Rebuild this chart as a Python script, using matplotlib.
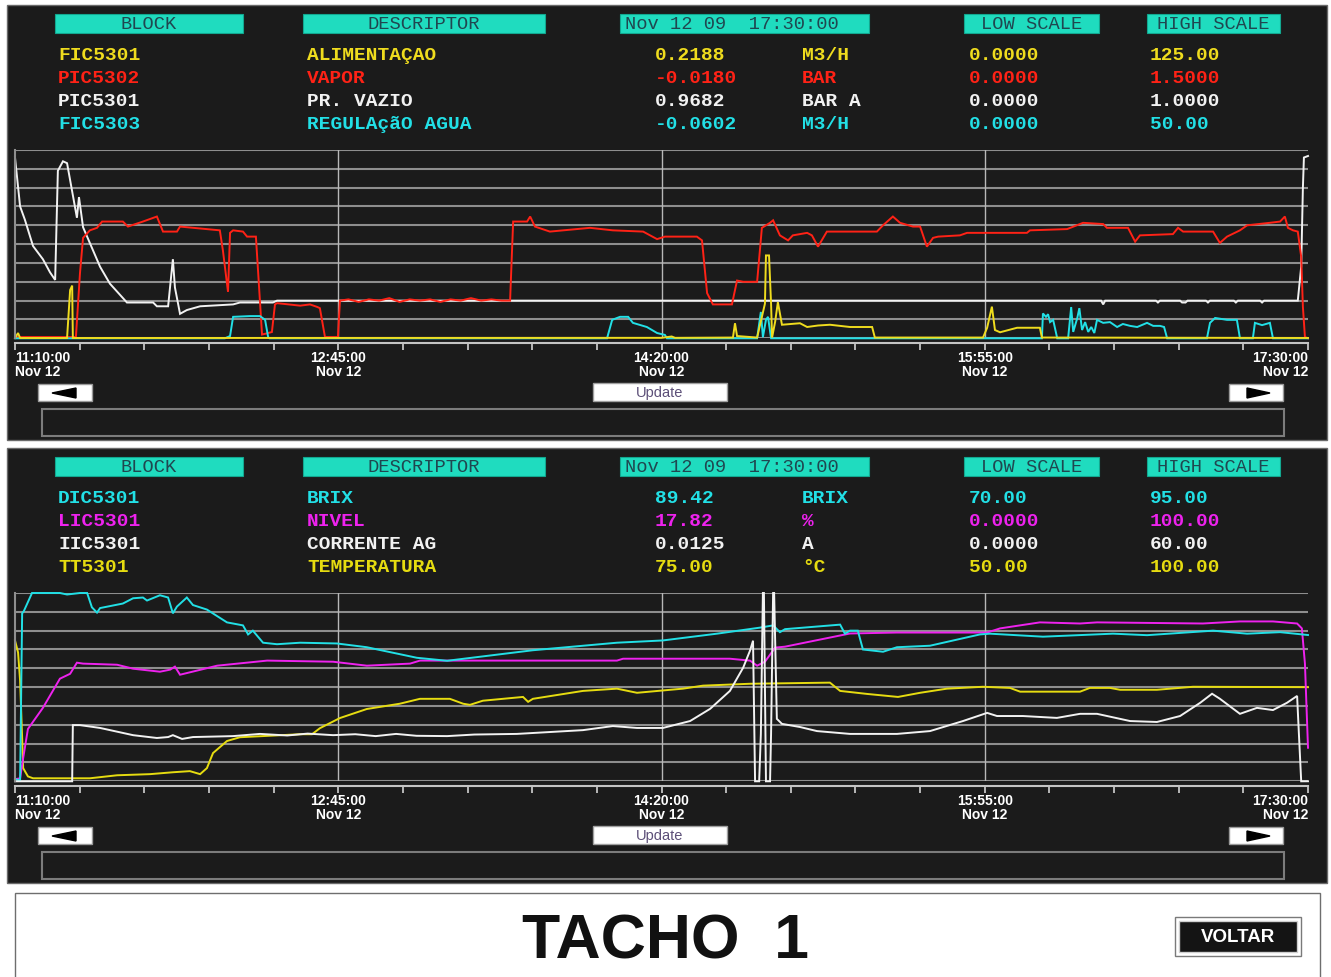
import numpy as np
import matplotlib
matplotlib.use("Agg")
import matplotlib.pyplot as plt
from matplotlib.patches import Rectangle, Polygon

W, H = 1331, 977

# janela de tendencia: minutos depois de 11:10:00 (Nov 12 09)
span_min = 380
major_min = [0, 95, 190, 285, 380]
major_txt = ["11:10:00", "12:45:00", "14:20:00", "15:55:00", "17:30:00"]
date_txt = "Nov 12"
stamp_txt = "Nov 12 09  17:30:00"

# grupo 1 - vapor / alimentacao
g1_block = ["FIC5301", "PIC5302", "PIC5301", "FIC5303"]
g1_desc = ["ALIMENTAÇAO", "VAPOR", "PR. VAZIO", "REGULAçãO AGUA"]
g1_value = [0.2188, -0.0180, 0.9682, -0.0602]
g1_unit = ["M3/H", "BAR", "BAR A", "M3/H"]
g1_low = [0.0, 0.0, 0.0, 0.0]
g1_high = [125.0, 1.5, 1.0, 50.0]
g1_color = ["#efdc1e", "#ff2216", "#f2f2f2", "#22e0e6"]

# grupo 2 - brix / nivel
g2_block = ["DIC5301", "LIC5301", "IIC5301", "TT5301"]
g2_desc = ["BRIX", "NIVEL", "CORRENTE AG", "TEMPERATURA"]
g2_value = [89.42, 17.82, 0.0125, 75.00]
g2_unit = ["BRIX", "%", "A", "°C"]
g2_low = [70.0, 0.0, 0.0, 50.0]
g2_high = [95.0, 100.0, 60.0, 100.0]
g2_color = ["#22e0e6", "#ee22ee", "#f2f2f2", "#e6dc10"]

# historicos (minuto, valor em unidade de engenharia)
fic5301 = [(0, 0.2), (0.9, 3.5), (1.5, 0.2), (15.3, 0.2), (16.2, 32), (16.8, 35), (17.0, 0.2),
           (190, 0.3), (193, 1.2), (194, 0.3), (211.0, 0.5), (211.6, 10), (212.2, 1.5),
           (218.1, 0.5), (220.4, 23), (220.7, 55), (221.6, 55), (222.2, 23), (222.5, 0.5),
           (223.4, 11), (224.2, 24), (225.4, 9), (230.7, 10), (232.8, 7.5), (236, 8.5),
           (239.5, 9), (245.4, 7.5), (251.9, 7.5), (252.7, 0.5), (284.5, 0.5), (285.7, 7),
           (287.1, 21), (288.0, 5.5), (289.5, 4), (294.5, 7), (301.2, 7), (301.8, 0.5),
           (380, 0.2188)]

pic5302 = [(0, 0.01), (17.9, 0.01), (19.1, 0.52), (20.0, 0.80), (22.0, 0.86), (24.1, 0.88),
           (25.6, 0.93), (31.7, 0.93), (33.2, 0.89), (37.6, 0.93), (41.7, 0.97), (43.5, 0.85),
           (47.6, 0.85), (48.5, 0.89), (60.2, 0.86), (61.1, 0.70), (62.6, 0.37), (63.2, 0.84),
           (64.1, 0.86), (67.0, 0.85), (68.2, 0.81), (70.8, 0.81), (72.6, 0.03), (74.1, 0.04),
           (75.5, 0.05), (76.4, 0.27), (77.0, 0.28), (83.8, 0.26), (86.7, 0.27), (88.8, 0.25),
           (89.6, 0.24), (91.1, 0.01), (94.9, 0.01), (95.5, 0.30), (98, 0.31), (101, 0.29),
           (104, 0.31), (107, 0.30), (110, 0.32), (113, 0.29), (116, 0.31), (119, 0.30),
           (122, 0.31), (125, 0.29), (128, 0.31), (131, 0.30), (134, 0.32), (137, 0.30),
           (140, 0.31), (143, 0.30), (145.5, 0.30), (146.4, 0.93), (150.5, 0.93), (151.4, 0.97),
           (152.8, 0.89), (157.2, 0.85), (169.0, 0.88), (175.7, 0.86), (184.6, 0.85),
           (188.7, 0.79), (191.0, 0.81), (200.4, 0.81), (201.9, 0.78), (203.4, 0.36),
           (205.1, 0.27), (210.7, 0.27), (212.2, 0.46), (214.0, 0.45), (218.1, 0.45),
           (219.5, 0.88), (221.9, 0.92), (222.8, 0.94), (224.8, 0.82), (227.2, 0.78),
           (228.6, 0.82), (232.8, 0.84), (234.2, 0.82), (236.0, 0.73), (238.6, 0.85),
           (253.3, 0.85), (255.1, 0.90), (258.0, 0.97), (260.1, 0.92), (263.9, 0.89),
           (266.0, 0.89), (268.0, 0.73), (269.8, 0.80), (271.3, 0.81), (277.7, 0.82),
           (279.8, 0.84), (297.4, 0.84), (298.3, 0.86), (309.2, 0.87), (313.9, 0.92),
           (319.8, 0.91), (320.9, 0.88), (327.1, 0.88), (329.2, 0.77), (330.6, 0.82),
           (340.3, 0.83), (341.8, 0.88), (343.3, 0.85), (352.1, 0.85), (354.1, 0.76),
           (356.2, 0.81), (360.0, 0.86), (362.1, 0.90), (368.8, 0.92), (371.8, 0.93),
           (373.2, 0.97), (374.1, 0.88), (375.6, 0.86), (377.0, 0.85), (378.0, 0.65),
           (378.5, 0.25), (379.1, 0.01), (380, -0.0180)]

pic5301 = [(0, 0.96), (1.5, 0.70), (2.9, 0.63), (5.3, 0.49), (8.2, 0.42), (10.3, 0.35),
           (11.8, 0.31), (12.6, 0.89), (14.1, 0.94), (15.3, 0.93), (18.2, 0.64), (18.8, 0.75),
           (20.0, 0.59), (25.0, 0.38), (27.9, 0.29), (32.9, 0.19), (40.6, 0.19), (41.7, 0.17),
           (45.0, 0.17), (46.4, 0.42), (47.0, 0.27), (48.5, 0.13), (50.5, 0.15), (54.4, 0.17),
           (64.1, 0.18), (66.1, 0.19), (75.8, 0.19), (77.0, 0.20), (319.2, 0.20), (319.8, 0.18),
           (320.4, 0.20), (335.3, 0.20), (335.9, 0.19), (336.5, 0.20), (342.4, 0.20),
           (343.0, 0.19), (344.0, 0.19), (344.6, 0.20), (350.0, 0.20), (350.6, 0.19),
           (351.2, 0.20), (358.2, 0.20), (358.8, 0.19), (359.4, 0.20), (365.9, 0.20),
           (366.5, 0.19), (367.1, 0.20), (377.0, 0.20), (378.0, 0.38), (378.5, 0.80),
           (378.8, 0.96), (380, 0.9682)]

fic5303 = [(0, 0), (61.7, 0), (63.2, 0.6), (64.1, 5.7), (69.1, 5.9), (72.0, 5.9), (73.5, 4.9),
           (74.4, 0.3), (74.8, 0), (174.0, 0), (175.5, 4.9), (177.8, 5.7), (180.2, 5.7),
           (181.6, 4.1), (185.7, 3.0), (188.7, 1.4), (191.0, 0.9), (191.6, 0), (218.1, 0),
           (219.2, 7.0), (219.8, 0.3), (220.7, 4.9), (221.3, 5.7), (222.2, 0), (301.8, 0),
           (302.1, 6.6), (303.0, 5.7), (303.6, 6.4), (304.2, 4.3), (305.1, 4.9), (306.3, 0),
           (309.5, 0), (310.4, 8.3), (311.0, 1.7), (312.2, 5.4), (312.8, 8.0), (313.6, 2.2),
           (314.5, 4.3), (315.4, 1.7), (316.3, 3.0), (317.2, 1.4), (318.0, 4.9), (319.8, 4.1),
           (321.8, 4.3), (323.9, 3.0), (325.6, 3.8), (327.7, 3.3), (329.8, 3.0), (332.7, 4.1),
           (334.5, 3.3), (336.5, 3.3), (337.7, 3.0), (338.6, 0), (350.3, 0), (351.2, 4.1),
           (352.7, 5.4), (356.2, 4.9), (359.1, 4.9), (360.0, 0), (363.8, 0), (364.4, 4.1),
           (366.5, 3.5), (368.8, 4.1), (369.7, 0), (380, -0.0602)]

dic5301 = [(0, 70.3), (1.5, 70.1), (2.1, 92.3), (2.6, 92.6), (5.0, 95.0), (13.2, 95.0),
           (15.3, 94.8), (19.1, 95.0), (21.2, 95.0), (22.6, 93.1), (24.1, 92.4), (25.0, 93.0),
           (31.7, 93.6), (34.7, 94.3), (37.6, 94.4), (38.8, 94.0), (42.6, 94.7), (45.0, 94.4),
           (46.4, 92.3), (47.6, 93.2), (50.5, 94.4), (52.3, 93.4), (56.4, 92.8), (62.3, 91.1),
           (67.0, 90.7), (68.5, 89.5), (69.9, 90.0), (72.9, 88.4), (77.0, 88.2), (83.8, 88.4),
           (94.6, 88.3), (103.4, 87.8), (118.1, 86.4), (127.0, 86.0), (152.2, 87.4),
           (176.9, 88.4), (190.4, 88.7), (206.3, 89.6), (218.9, 90.4), (222.8, 90.7),
           (224.8, 89.8), (226.3, 90.2), (242.5, 90.8), (243.9, 89.6), (245.4, 90.0),
           (247.7, 90.0), (249.2, 87.5), (255.1, 87.2), (259.2, 87.8), (268.9, 88.0),
           (283.6, 89.5), (286.5, 89.6), (302.1, 89.2), (322.7, 89.6), (332.7, 89.4),
           (352.1, 90.0), (362.1, 89.6), (371.8, 89.8), (380, 89.42)]

lic5301 = [(0, 1.1), (1.5, 1.6), (2.4, 12.3), (3.8, 27.8), (8.2, 39.0), (13.2, 54.5),
           (16.2, 57.1), (18.2, 63.0), (20.0, 62.5), (30.0, 61.9), (34.7, 59.8), (42.6, 58.2),
           (45.6, 59.3), (47.0, 60.9), (48.5, 56.6), (59.4, 61.4), (74.1, 64.1), (93.5, 63.5),
           (103.4, 61.4), (116.1, 62.5), (119.0, 64.1), (176.9, 64.1), (178.7, 65.1),
           (210.1, 65.1), (216.0, 64.1), (218.1, 61.4), (220.4, 63.5), (223.4, 71.0),
           (226.3, 71.5), (245.4, 78.5), (259.2, 79.0), (285.7, 79.0), (289.5, 81.2),
           (301.2, 84.4), (313.0, 83.8), (318.0, 84.4), (349.1, 83.8), (360.0, 84.9),
           (369.7, 84.9), (376.8, 83.8), (378.2, 81.2), (379.1, 62.5), (380, 17.82)]

iic5301 = [(0, 0), (16.8, 0), (17.0, 17.9), (19.1, 17.9), (25.0, 17.0), (34.7, 14.7),
           (41.7, 13.8), (45.0, 14.1), (46.4, 14.7), (49.1, 13.5), (52.3, 14.1), (64.1, 14.4),
           (72.0, 15.1), (80, 14.6), (86, 15.2), (93.5, 14.7), (100, 15.0), (106, 14.4),
           (112, 15.1), (118, 14.5), (127.0, 14.4), (135, 14.9), (147.5, 15.1), (166.9, 16.3),
           (175.7, 17.6), (182.8, 17.0), (190.4, 17.0), (198.4, 19.2), (204.3, 23.1),
           (210.1, 28.8), (214.0, 36.2), (216.0, 41.6), (216.9, 44.8), (217.5, 0), (218.7, 0),
           (219.2, 15.1), (219.8, 60), (220.1, 60), (220.7, 0), (221.9, 0), (222.2, 15.1),
           (222.8, 60), (223.1, 60), (223.9, 19.9), (225.4, 18.3), (230.7, 17.3),
           (235.7, 16.0), (245.4, 15.1), (259.2, 15.1), (268.9, 16.0), (278.6, 19.2),
           (285.7, 21.8), (288.6, 20.8), (296.2, 20.8), (306.2, 20.2), (313.0, 21.5),
           (318.0, 21.5), (327.7, 19.2), (335.6, 18.9), (342.4, 20.8), (348.3, 25.0),
           (351.8, 27.9), (354.1, 26.3), (360.0, 21.5), (365.0, 23.4), (369.7, 22.7),
           (373.8, 25.0), (376.8, 27.2), (377.1, 20.2), (378.0, 0), (380, 0.0125)]

tt5301 = [(0, 87.4), (0.9, 84.2), (1.5, 76.7), (2.1, 61.5), (2.4, 53.5), (3.8, 51.3),
          (5.3, 50.8), (22.0, 50.8), (30.0, 51.6), (39.7, 51.9), (46.4, 52.4), (51.4, 52.7),
          (54.4, 51.9), (56.4, 53.5), (58.2, 57.5), (62.3, 60.7), (66.1, 61.7), (83.8, 62.5),
          (87.3, 62.5), (89.6, 64.1), (95.5, 66.8), (103.4, 69.2), (113.1, 70.6),
          (119.0, 71.9), (127.8, 71.9), (131.7, 70.6), (133.7, 70.3), (137.5, 71.4),
          (149.3, 72.4), (150.8, 71.1), (152.2, 71.9), (166.9, 74.0), (176.9, 74.6),
          (182.8, 73.5), (196.3, 74.6), (202.2, 75.4), (216.0, 75.9), (239.5, 76.2),
          (242.5, 74.0), (250.4, 73.2), (259.5, 72.4), (266.0, 73.5), (273.9, 74.6),
          (284.5, 75.1), (292.4, 74.8), (295.4, 73.8), (313.0, 73.8), (315.9, 74.8),
          (321.8, 74.8), (324.8, 74.3), (335.6, 74.3), (346.2, 75.1), (380, 75.00)]

g1_series = [fic5301, pic5302, pic5301, fic5303]
g2_series = [dic5301, lic5301, iic5301, tt5301]
g1_order = [2, 1, 3, 0]   # ordem de desenho das penas
g2_order = [3, 1, 0, 2]

MONO = "Liberation Mono"
SANS = "Liberation Sans"
PANEL = "#1b1b1b"
TEAL = "#1fdcbf"
GRID = "#8e8e8e"


def fmt(v):
    return f"{v:.4f}" if abs(v) < 10 else f"{v:.2f}"


def fig_rect(x0, y0, x1, y1):
    return [x0 / W, 1 - y1 / H, (x1 - x0) / W, (y1 - y0) / H]


fig = plt.figure(figsize=(W / 100, H / 100), dpi=100, facecolor="white")
cv = fig.add_axes([0, 0, 1, 1])
cv.set_xlim(0, W)
cv.set_ylim(H, 0)
cv.axis("off")


def draw_group(dy, blocks, descs, values, units, lows, highs, colors, series, order):
    # fundo do painel
    cv.add_patch(Rectangle((7, 5 + dy), 1320, 435, facecolor=PANEL, edgecolor="#6a6a6a", lw=1))

    # cabecalho
    heads = [(55, 243, "BLOCK", "center"), (303, 545, "DESCRIPTOR", "center"),
             (620, 869, stamp_txt, "left"), (964, 1099, "LOW SCALE", "center"),
             (1147, 1280, "HIGH SCALE", "center")]
    for x0, x1, txt, ha in heads:
        cv.add_patch(Rectangle((x0, 14 + dy), x1 - x0, 19, facecolor=TEAL,
                               edgecolor="#12a890", lw=0.8))
        tx = (x0 + x1) / 2 if ha == "center" else x0 + 5
        cv.text(tx, 24.5 + dy, txt, ha=ha, va="center", family=MONO, fontsize=13.5,
                color="#1f4750")

    # linhas das penas
    for i in range(4):
        y = 55.5 + 23 * i + dy
        cols = [(58, blocks[i]), (307, descs[i]), (655, fmt(values[i])), (802, units[i]),
                (969, fmt(lows[i])), (1150, fmt(highs[i]))]
        for x, txt in cols:
            cv.text(x, y, txt, ha="left", va="center", family=MONO, fontsize=14,
                    fontweight="bold", color=colors[i])

    # area de tendencia
    ax = fig.add_axes(fig_rect(15, 150 + dy, 1308, 338.3 + dy))
    ax.set_facecolor("none")
    ax.set_xlim(0, span_min)
    ax.set_ylim(0, 1)
    ax.set_yticks(np.linspace(0, 1, 11))
    ax.tick_params(axis="y", length=0, labelleft=False)
    ax.grid(axis="y", color=GRID, lw=1.5)
    for m in major_min[1:-1]:
        ax.axvline(m, color="#b8b8b8", lw=1.0)
    ax.spines["top"].set_visible(False)
    ax.spines["right"].set_visible(False)
    ax.spines["left"].set_color(GRID)
    ax.spines["left"].set_linewidth(1.5)
    ax.spines["bottom"].set_position(("outward", 3.5))
    ax.spines["bottom"].set_color("#c4c4c4")
    ax.spines["bottom"].set_linewidth(1.5)
    ax.set_xticks(major_min, labels=[f"{t}\n{date_txt}" for t in major_txt])
    ax.set_xticks(np.arange(0, span_min + 1, 19), minor=True)
    ax.tick_params(axis="x", which="both", direction="out", length=5, width=1.3,
                   color="#c4c4c4", labelcolor="white", labelsize=10, pad=1)
    labs = ax.get_xticklabels()
    for lab in labs:
        lab.set_family(SANS)
        lab.set_fontweight("bold")
        lab.set_linespacing(0.95)
    labs[0].set_ha("left")
    labs[-1].set_ha("right")

    for i in order:
        t, v = np.array(series[i], dtype=float).T
        frac = np.clip((v - lows[i]) / (highs[i] - lows[i]), 0, 1)
        ax.plot(t, frac, color=colors[i], lw=1.4, clip_on=False, solid_joinstyle="miter")

    # botoes
    cv.add_patch(Rectangle((38, 384 + dy), 54, 17, facecolor="white", edgecolor="#9a9a9a", lw=1))
    cv.add_patch(Polygon([(52, 393 + dy), (76, 388 + dy), (76, 398 + dy)], closed=True,
                         facecolor="black", edgecolor="black"))
    cv.add_patch(Rectangle((1229, 384 + dy), 54, 17, facecolor="white", edgecolor="#9a9a9a", lw=1))
    cv.add_patch(Polygon([(1270, 393 + dy), (1247, 388 + dy), (1247, 398 + dy)], closed=True,
                         facecolor="black", edgecolor="black"))
    cv.add_patch(Rectangle((593, 383 + dy), 134, 18, facecolor="white", edgecolor="#a0a0a0", lw=1))
    cv.text(660, 393 + dy, "Update", ha="center", va="center", family=SANS, fontsize=10.5,
            color="#5c4f78")
    cv.add_patch(Rectangle((42, 409 + dy), 1242, 27, facecolor="none", edgecolor="#7c7c7c", lw=1.5))


draw_group(0, g1_block, g1_desc, g1_value, g1_unit, g1_low, g1_high, g1_color, g1_series, g1_order)
draw_group(443, g2_block, g2_desc, g2_value, g2_unit, g2_low, g2_high, g2_color, g2_series, g2_order)

# rodape
cv.add_patch(Rectangle((15, 893), 1305, 100, facecolor="white", edgecolor="#6e6e6e", lw=1))
cv.text(666, 942, "TACHO  1", ha="center", va="center", family=SANS, fontsize=45,
        fontweight="bold", color="#111111")
cv.add_patch(Rectangle((1175, 917), 126, 39, facecolor="white", edgecolor="#7a7a7a", lw=1))
cv.add_patch(Rectangle((1179, 921), 118, 31, facecolor="#141414", edgecolor="#cfcfcf", lw=1))
cv.text(1238, 937, "VOLTAR", ha="center", va="center", family=SANS, fontsize=13.5,
        fontweight="bold", color="white")

fig.savefig("out.png", dpi=100, facecolor="white")
